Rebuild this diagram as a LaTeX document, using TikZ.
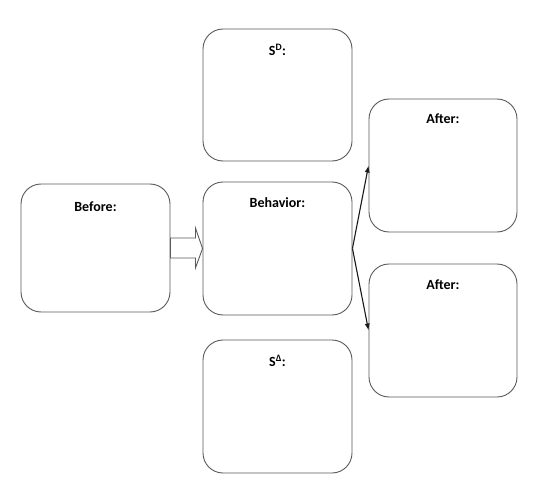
\documentclass[tikz,border=0pt]{standalone}
\usepackage{fontspec}
\setmainfont{Carlito}
\usetikzlibrary{arrows.meta}
\begin{document}
\begin{tikzpicture}[x=1pt,y=-1pt,
  box/.style={draw=black!65, line width=0.9pt, rounded corners=20pt, fill=white, inner sep=0pt},
  lbl/.style={font=\fontsize{14}{16}\selectfont\bfseries, inner sep=0pt, anchor=center},
  conn/.style={draw=black!90, line width=1.1pt, -{Latex[length=7pt,width=5pt]}},
  hollow/.style={draw=black!65, line width=0.9pt, fill=white, line join=miter}]
\useasboundingbox (0,0) rectangle (538,484);
\node[box, minimum width=149pt, minimum height=128pt] (before) at (95.5,248) {};
\node[box, minimum width=149pt, minimum height=132pt] (sd) at (277.5,95) {};
\node[box, minimum width=149pt, minimum height=133pt] (behavior) at (277.5,248.5) {};
\node[box, minimum width=149pt, minimum height=133pt] (sdelta) at (277.5,406.5) {};
\node[box, minimum width=148pt, minimum height=133pt] (after1) at (443,165.5) {};
\node[box, minimum width=148pt, minimum height=133pt] (after2) at (443,330.5) {};
\node[lbl] (tbefore) at ([yshift=-23pt]before.north) {Before:};
\node[lbl] (tsd) at ([yshift=-21pt]sd.north) {S\textsuperscript{D}:};
\node[lbl] (tbehavior) at ([yshift=-21pt]behavior.north) {Behavior:};
\node[lbl] (tsdelta) at ([yshift=-21pt]sdelta.north) {S\textsuperscript{Δ}:};
\node[lbl] (tafter1) at ([yshift=-20pt]after1.north) {After:};
\node[lbl] (tafter2) at ([yshift=-21pt]after2.north) {After:};
\draw[hollow] ([shift={(0,-10)}]before.east) -- ([shift={(25,-10)}]before.east) -- ([shift={(25,-20)}]before.east) -- (behavior.west) -- ([shift={(25,20)}]before.east) -- ([shift={(25,10)}]before.east) -- ([shift={(0,10)}]before.east) -- cycle;
\draw[conn] (behavior.east) -- (after1.west);
\draw[conn] (behavior.east) -- (after2.west);
\end{tikzpicture}
\end{document}
